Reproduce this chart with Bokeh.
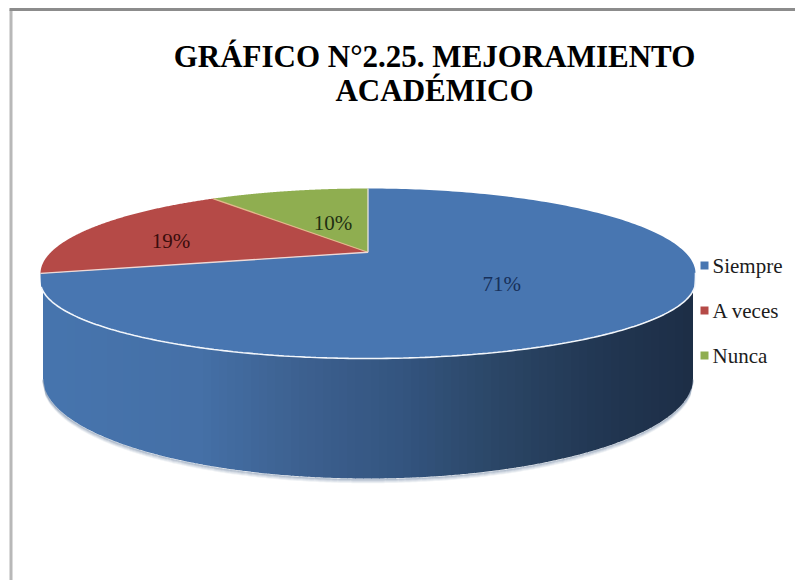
import numpy as np
from bokeh.plotting import figure
from bokeh.models import Range1d
from bokeh.core.properties import value
from bokeh.embed import file_html
from bokeh.resources import INLINE

categories = ["Siempre", "A veces", "Nunca"]
shares = [71, 19, 10]
labels = ["71%", "19%", "10%"]
colors = ["#4876b1", "#b54a47", "#8fae50"]
label_colors = ["#17305a", "#3a0d0c", "#1f3012"]
title_lines = ["GRÁFICO N°2.25. MEJORAMIENTO", "ACADÉMICO"]

# projection of the tilted disc (page pixels)
CX, CY, RX, RY = 367.5, 273.0, 327.5, 85.0
LOW_CY, LOW_RY = 281.0, 77.0
BASE_CY, BASE_RX, BASE_RY = 378.0, 325.0, 100.0
TILT = 0.25


def project(u, v):
    u, v = np.asarray(u, float), np.asarray(v, float)
    d = 1 + TILT * v
    return u * np.sqrt(1 - TILT ** 2) / d, (v + TILT) / d


def to_page(up, vp):
    up, vp = np.asarray(up, float), np.asarray(vp, float)
    lower = np.clip(-vp / 0.06, 0, 1)
    cy = CY + (LOW_CY - CY) * lower
    ry = RY + (LOW_RY - RY) * lower
    return CX + RX * up, cy - ry * vp


def polar(deg, r=1.0):
    a = np.radians(deg)
    return to_page(*project(-r * np.sin(a), r * np.cos(a)))


# slices run counter-clockwise from 12 o'clock, smallest share first
order = [2, 1, 0]
edges = np.concatenate([[0], np.cumsum([shares[i] for i in order]) * 3.6])

p = figure(width=795, height=580, x_range=Range1d(0, 795), y_range=Range1d(580, 0),
           output_backend="svg", toolbar_location=None, min_border=0)
p.axis.visible = False
p.grid.visible = False
p.outline_line_color = None
p.background_fill_color = "white"
p.border_fill_color = "white"

# frame of the original picture
p.line([10.5, 10.5], [9, 580], line_color="#b8b8b8", line_width=3)
p.line([9, 795], [9, 9], line_color="#8c8c8c", line_width=3)

# soft shadow below the side wall
xb = np.linspace(CX - BASE_RX, CX + BASE_RX, 200)
yb = BASE_CY + BASE_RY * np.sqrt(np.clip(1 - ((xb - CX) / BASE_RX) ** 2, 0, 1))
for off, alpha in [(4, 0.12), (3, 0.2), (2, 0.35), (1, 0.5)]:
    p.line(xb, yb + off, line_color="#7f93ad", line_alpha=alpha, line_width=1.5)

# side wall as vertical shaded bands
stops_x = [42, 200, 300, 400, 500, 600, 693]
stops_r = [0x47, 0x45, 0x3d, 0x34, 0x2b, 0x22, 0x1d]
stops_g = [0x75, 0x70, 0x61, 0x55, 0x46, 0x37, 0x2e]
stops_b = [0xae, 0xa7, 0x90, 0x80, 0x66, 0x53, 0x46]
band_edges = np.arange(CX - BASE_RX, CX + BASE_RX + 8, 8)
xs, ys, cs = [], [], []
for a, b in zip(band_edges[:-1], band_edges[1:]):
    xx = np.linspace(a, min(b + 0.6, CX + BASE_RX), 5)
    top = LOW_CY + LOW_RY * np.sqrt(np.clip(1 - ((xx - CX) / RX) ** 2, 0, 1))
    bot = BASE_CY + BASE_RY * np.sqrt(np.clip(1 - ((xx - CX) / BASE_RX) ** 2, 0, 1))
    m = (a + b) / 2
    xs.append(np.r_[xx, xx[::-1]].tolist())
    ys.append(np.r_[top - 2, bot[::-1]].tolist())
    cs.append("#%02x%02x%02x" % (int(np.interp(m, stops_x, stops_r)),
                                 int(np.interp(m, stops_x, stops_g)),
                                 int(np.interp(m, stops_x, stops_b))))
p.patches(xs, ys, fill_color=cs, line_color=None)

# top face
for k, i in enumerate(order):
    ang = np.linspace(edges[k], edges[k + 1], 240)
    ax, ay = polar(ang)
    ox, oy = polar(np.array([0.0]), 0.0)
    p.patch(np.r_[ox, ax], np.r_[oy, ay], fill_color=colors[i], line_color=None)

# rim highlight (front edge only) and slice separators
rim = np.linspace(edges[2] + 4, 256, 200)
rx_, ry_ = polar(rim)
p.line(rx_, ry_, line_color="#f2f6fb", line_width=1.6)
ox, oy = polar(np.array([0.0]), 0.0)
sep_colors = ["#e8e4e0", "#e0b98a", "#efd9d6"]
for e, c in zip(edges[:-1], sep_colors):
    sx, sy = polar(np.array([e]))
    p.line([ox[0], sx[0]], [oy[0], sy[0]], line_color=c, line_width=1.3)

# percentage labels, placed along each slice's mid-angle
label_r = [0.49, 0.66, 0.415]
label_turn = [0.6, 7.0, -1.0]
mid = {i: (edges[k] + edges[k + 1]) / 2 for k, i in enumerate(order)}
for i in range(3):
    lx, ly = polar(np.array([mid[i] + label_turn[i]]), label_r[i])
    p.text(lx, ly, text=[labels[i]], text_color=label_colors[i], text_align="center",
           text_baseline="middle", text_font=value("Liberation Serif"), text_font_size="21px")

# legend
legend_y = [265, 310, 355]
p.scatter([704] * 3, legend_y, marker="square", size=8, fill_color=colors, line_color=None)
p.text([712] * 3, legend_y, text=categories, text_color="#1c1c1c", text_align="left",
       text_baseline="middle", text_font=value("Liberation Serif"), text_font_size="21px")

# title
p.text([434, 434], [56, 90], text=title_lines, text_color="#000000", text_align="center",
       text_baseline="middle", text_font=value("Liberation Serif"),
       text_font_style="bold", text_font_size="31px")

open("out.html", "w").write(file_html(p, INLINE))
